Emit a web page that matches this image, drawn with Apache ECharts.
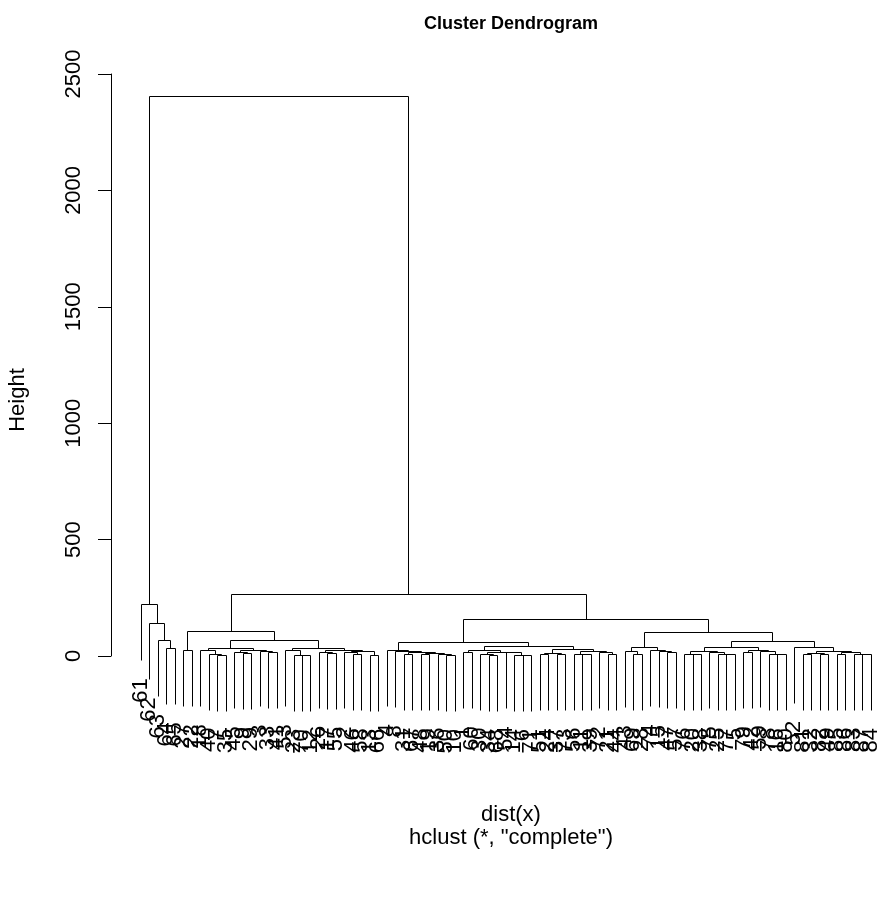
<!DOCTYPE html>
<html><head><meta charset="utf-8">
<script src="https://cdn.jsdelivr.net/npm/echarts@6/dist/echarts.min.js"></script>
<style>html,body{margin:0;padding:0;background:#fff}#c{width:880px;height:917px}</style>
</head><body><div id="c"></div>
<script>
// Leaf labels in dendrogram order (left to right)
const leafLabels = [61,62,63,64,65,27,22,18,40,7,35,45,9,29,3,33,41,53,23,70,12,26,17,55,2,46,58,13,66,
  4,8,31,67,48,19,36,50,10,1,60,30,34,68,54,14,6,71,51,24,37,73,56,11,39,72,21,44,
  43,69,28,74,15,47,57,76,20,38,75,25,77,5,79,42,59,78,16,80,52,81,32,82,49,85,86,83,87,84].map(String);

// Merge table: [left, right, height]; negative = leaf position, positive = earlier merge (1-based)
const merges = [
  [-4,-5,34],[-3,1,69],[-2,2,141],[-1,3,222],
  [-6,-7,25],
  [-10,-11,6],[-9,6,11],[-8,7,25],
  [-13,-14,13],[-12,9,16],[-16,-17,18],[-15,11,24],[10,12,28],[8,13,33],
  [-20,-21,3],[-19,15,6],[-18,16,25],[-23,-24,14],[-22,18,19],[-26,-27,8],[-25,20,16],[-28,-29,6],
  [21,22,22],[19,23,27],[17,24,35],[14,25,68],[5,26,107],
  [-32,-33,11],[-34,-35,8],[-37,-38,5],[-36,30,11],[29,31,14],[28,32,18],[-31,33,21],[-30,34,26],
  [-39,-40,16],[-42,-43,6],[-41,37,11],[-46,-47,4],[-45,39,5],[-44,40,16],[38,41,19],[36,42,26],
  [-48,-49,8],[-50,-51,7],[44,45,12],[-53,-54,8],[-52,47,11],[-56,-57,8],[-55,49,16],[48,50,21],
  [46,51,29],[43,52,43],[35,53,62],
  [-59,-60,11],[-58,55,21],[-63,-64,16],[-62,57,22],[-61,58,25],[56,59,38],
  [-66,-67,9],[-65,61,11],[-70,-71,9],[-69,63,11],[-68,64,16],[62,65,20],
  [-72,-73,16],[-76,-77,8],[-75,68,11],[-74,69,21],[67,70,25],[66,71,38],
  [-79,-80,8],[-81,-82,11],[73,74,15],[-83,-84,11],[-86,-87,9],[-85,77,11],[76,78,16],[75,79,24],
  [-78,80,40],[72,81,66],[60,82,105],[54,83,161],[27,84,268],[4,85,2407]
];

const yTicks = [0,500,1000,1500,2000,2500];
const titleText = 'Cluster Dendrogram';
const xLabel = 'dist(x)';
const subLabel = 'hclust (*, "complete")';
const yLabel = 'Height';

// ---- build segments from the merge table ----
const n = leafLabels.length;
const mx = [], mh = [];
function cx(r){ return r < 0 ? -r : mx[r-1]; }
merges.forEach((m,i)=>{ mx[i] = (cx(m[0]) + cx(m[1]))/2; mh[i] = m[2]; });
const hMax = Math.max(...mh), hMin = Math.min(...mh);
const hang = 0.1*(hMax - hMin);
const segs = [];
const leafBottom = [];
merges.forEach((m)=>{
  const h = m[2];
  segs.push([cx(m[0]), h, cx(m[1]), h]);
  [m[0], m[1]].forEach(r=>{
    const x = cx(r);
    const y2 = r < 0 ? h - hang : mh[r-1];
    segs.push([x, h, x, y2]);
    if (r < 0) leafBottom[-r-1] = h - hang;
  });
});
const labelData = leafLabels.map((l,i)=>[i+1, leafBottom[i]]);

// R-style 4% expansion; plot region runs past the right edge of the canvas, so clip it at 880px
const xMin = 1 - 0.04*(n-1), xMaxFull = n + 0.04*(n-1);
const GRID_LEFT = 111.5, GRID_FULL_W = 788.5, GRID_W = 880 - GRID_LEFT;
const xMax = xMin + (xMaxFull - xMin)*GRID_W/GRID_FULL_W;
const yLo = hMin - hang, yHi = hMax, yPad = 0.04*(yHi - yLo);

const FONT = '"Liberation Sans", Arial, Helvetica, sans-serif';
const FS = 22;
const chart = echarts.init(document.getElementById('c'), null, {renderer:'canvas'});
function px(v){ return Math.round(v) + 0.5; }

chart.setOption({
  animation: false,
  backgroundColor: '#fff',
  title: [
    {text: titleText, left: 506, top: 10, textAlign: 'center',
     textStyle: {fontFamily: FONT, fontWeight: 'bold', fontSize: 18, color: '#000'}},
    {text: xLabel, left: 506, top: 799, textAlign: 'center',
     textStyle: {fontFamily: FONT, fontWeight: 'normal', fontSize: FS, color: '#000'}},
    {text: subLabel, left: 506, top: 822, textAlign: 'center',
     textStyle: {fontFamily: FONT, fontWeight: 'normal', fontSize: FS, color: '#000'}}
  ],
  graphic: [
    {type: 'text', x: 18, y: 400, rotation: Math.PI/2,
     style: {text: yLabel, align: 'center', verticalAlign: 'middle', font: FS + 'px ' + FONT, fill: '#000'}}
  ],
  grid: [
    {left: GRID_LEFT, top: 71, width: GRID_W, height: 665},
    {left: 111, top: 74, width: 700, height: 582}
  ],
  xAxis: [
    {type: 'value', gridIndex: 0, min: xMin, max: xMax, show: false},
    {type: 'value', gridIndex: 1, min: 0, max: 1, show: false}
  ],
  yAxis: [
    {type: 'value', gridIndex: 0, min: yLo - yPad, max: yHi + yPad, show: false},
    {type: 'value', gridIndex: 1, min: yTicks[0], max: yTicks[yTicks.length-1], interval: yTicks[1]-yTicks[0],
     axisLine: {show: true, lineStyle: {color: '#000', width: 1}},
     axisTick: {show: true, length: 13, lineStyle: {color: '#000', width: 1}},
     splitLine: {show: false},
     axisLabel: {rotate: 90, margin: 26, color: '#000', fontSize: FS, fontFamily: FONT,
                 formatter: function(v){ return String(v); }}}
  ],
  series: [
    {type: 'custom', xAxisIndex: 0, yAxisIndex: 0, data: segs, silent: true,
     renderItem: function(params, api){
       const p1 = api.coord([api.value(0), api.value(1)]);
       const p2 = api.coord([api.value(2), api.value(3)]);
       return {type: 'line',
         shape: {x1: px(p1[0]), y1: px(p1[1]), x2: px(p2[0]), y2: px(p2[1])},
         style: {stroke: '#000', lineWidth: 1}};
     }},
    {type: 'custom', xAxisIndex: 0, yAxisIndex: 0, data: labelData, silent: true,
     renderItem: function(params, api){
       const p = api.coord([api.value(0), api.value(1)]);
       return {type: 'text', x: p[0], y: p[1] + 18, rotation: Math.PI/2,
         style: {text: leafLabels[params.dataIndex], align: 'right', verticalAlign: 'middle',
                 font: FS + 'px ' + FONT, fill: '#000'}};
     }}
  ]
});
</script>
</body></html>
